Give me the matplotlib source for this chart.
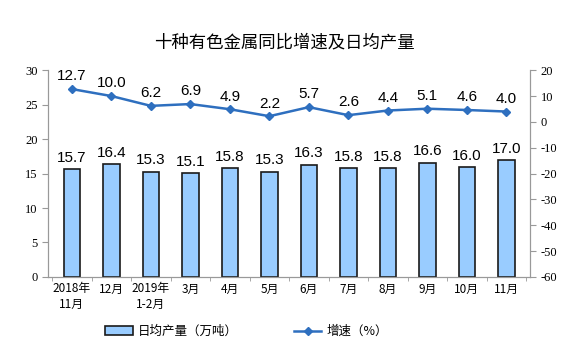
import matplotlib.pyplot as plt
import numpy as np

plt.rcParams['font.family'] = ['Liberation Serif', 'Noto Sans CJK SC']
plt.rcParams['axes.unicode_minus'] = False

months = ['2018年\n11月', '12月', '2019年\n1-2月', '3月', '4月', '5月', '6月',
          '7月', '8月', '9月', '10月', '11月']
output = [15.7, 16.4, 15.3, 15.1, 15.8, 15.3, 16.3, 15.8, 15.8, 16.6, 16.0, 17.0]
growth = [12.7, 10.0, 6.2, 6.9, 4.9, 2.2, 5.7, 2.6, 4.4, 5.1, 4.6, 4.0]

fig = plt.figure(figsize=(5.87, 3.51), dpi=100)
ax = fig.add_axes([0.082, 0.211, 0.821, 0.589])
ax2 = ax.twinx()

x = np.arange(len(months))
bars = ax.bar(x, output, width=0.42, color='#99ccff', edgecolor='#1a1a1a', linewidth=1.2,
              label='日均产量（万吨）')
for xi, v in zip(x, output):
    ax.text(xi, v + 0.6, f'{v:.1f}', ha='center', va='bottom', fontsize=11,
            family=['Liberation Sans', 'DejaVu Sans'])

line, = ax2.plot(x, growth, color='#2e6fbf', linewidth=1.8, marker='D', markersize=4,
                 label='增速（%）')
for xi, v in zip(x, growth):
    ax2.text(xi, v + 2.2, f'{v:.1f}', ha='center', va='bottom', fontsize=11,
             family=['Liberation Sans', 'DejaVu Sans'])

ax.set_xlim(-0.6, len(months) - 0.4)
ax.set_ylim(0, 30)
ax.set_yticks(range(0, 31, 5))
ax2.set_ylim(-60, 20)
ax2.set_yticks(range(-60, 21, 10))

ax.set_xticks(x)
ax.set_xticklabels(months, fontsize=8.5, family=['Noto Sans CJK SC'])
ax.set_xticks(np.arange(-0.5, len(months), 1), minor=True)
ax.tick_params(axis='x', which='major', length=0, pad=4)
ax.tick_params(axis='x', which='minor', length=3, color='#999999')
ax.tick_params(axis='y', labelsize=9, length=4, color='#999999')
ax2.tick_params(axis='y', labelsize=9, length=4, color='#999999')

for a in (ax, ax2):
    a.spines['top'].set_visible(False)
    for s in ('left', 'right', 'bottom'):
        a.spines[s].set_color('#999999')

fig.suptitle('十种有色金属同比增速及日均产量', x=0.485, y=0.905, fontsize=12.5,
             family=['Noto Sans CJK SC'])

fig.legend([bars, line], ['日均产量（万吨）', '增速（%）'], loc='lower center',
           bbox_to_anchor=(0.42, 0.005), ncol=2, frameon=False, columnspacing=4.5,
           prop={'family': 'Noto Sans CJK SC', 'size': 9}, handlelength=2.2,
           handletextpad=0.4)

fig.savefig('out.png', dpi=100)
